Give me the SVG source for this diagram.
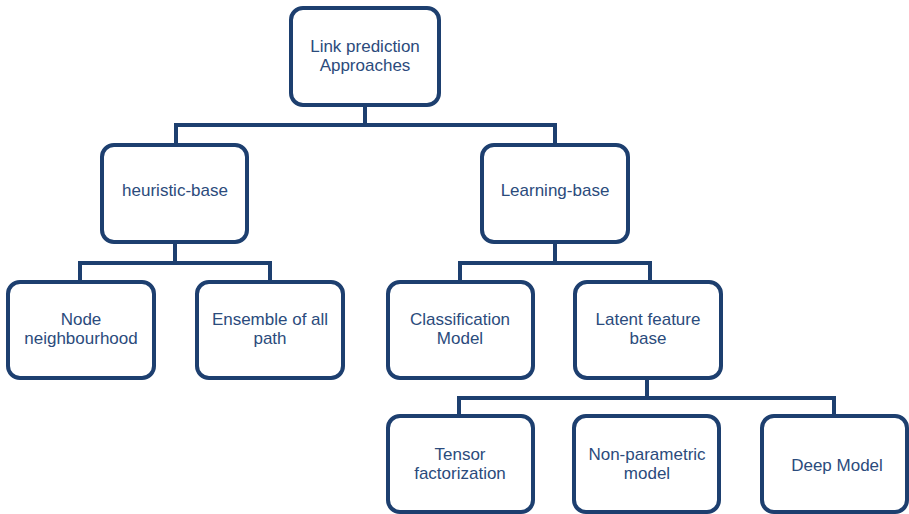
<svg xmlns="http://www.w3.org/2000/svg" width="909" height="514" viewBox="0 0 909 514">
  <style>
    .box { fill: #ffffff; stroke: #1d3f6f; stroke-width: 4; }
    .conn { fill: none; stroke: #1d3f6f; stroke-width: 4; stroke-linejoin: miter; }
    .lbl { font-family: "Liberation Sans", Arial, sans-serif; font-size: 17px; fill: #2b4b7c; text-anchor: middle; }
  </style>
  <rect width="909" height="514" fill="#ffffff"/>
  <g id="connectors">
    <path class="conn" d="M365,106 V125 M176,145 V125 H555 V145"/>
    <path class="conn" d="M175,242 V263 M80,282 V263 H270 V282"/>
    <path class="conn" d="M555,242 V263 M460,282 V263 H650 V282"/>
    <path class="conn" d="M647,378 V398 M459,416 V398 H834 V416"/>
  </g>
  <g id="n-root">
    <rect class="box" x="291" y="8" width="148" height="97" rx="12"/>
    <text class="lbl" x="365" y="52">Link prediction</text>
    <text class="lbl" x="365" y="71">Approaches</text>
  </g>
  <g id="n-heuristic">
    <rect class="box" x="102" y="145" width="145" height="97" rx="12"/>
    <text class="lbl" x="175" y="196">heuristic-base</text>
  </g>
  <g id="n-learning">
    <rect class="box" x="482" y="145" width="146" height="97" rx="12"/>
    <text class="lbl" x="555" y="196">Learning-base</text>
  </g>
  <g id="n-node-neigh">
    <rect class="box" x="8" y="282" width="146" height="96" rx="12"/>
    <text class="lbl" x="81" y="325">Node</text>
    <text class="lbl" x="81" y="344">neighbourhood</text>
  </g>
  <g id="n-ensemble">
    <rect class="box" x="197" y="282" width="146" height="96" rx="12"/>
    <text class="lbl" x="270" y="325">Ensemble of all</text>
    <text class="lbl" x="270" y="344">path</text>
  </g>
  <g id="n-classification">
    <rect class="box" x="388" y="282" width="145" height="96" rx="12"/>
    <text class="lbl" x="460" y="325">Classification</text>
    <text class="lbl" x="460" y="344">Model</text>
  </g>
  <g id="n-latent">
    <rect class="box" x="575" y="282" width="146" height="96" rx="12"/>
    <text class="lbl" x="648" y="325">Latent feature</text>
    <text class="lbl" x="648" y="344">base</text>
  </g>
  <g id="n-tensor">
    <rect class="box" x="388" y="416" width="145" height="96" rx="12"/>
    <text class="lbl" x="460" y="460">Tensor</text>
    <text class="lbl" x="460" y="479">factorization</text>
  </g>
  <g id="n-nonparam">
    <rect class="box" x="574" y="416" width="145" height="96" rx="12"/>
    <text class="lbl" x="647" y="460">Non-parametric</text>
    <text class="lbl" x="647" y="479">model</text>
  </g>
  <g id="n-deep">
    <rect class="box" x="762" y="416" width="145" height="96" rx="12"/>
    <text class="lbl" x="837" y="471">Deep Model</text>
  </g>
</svg>
